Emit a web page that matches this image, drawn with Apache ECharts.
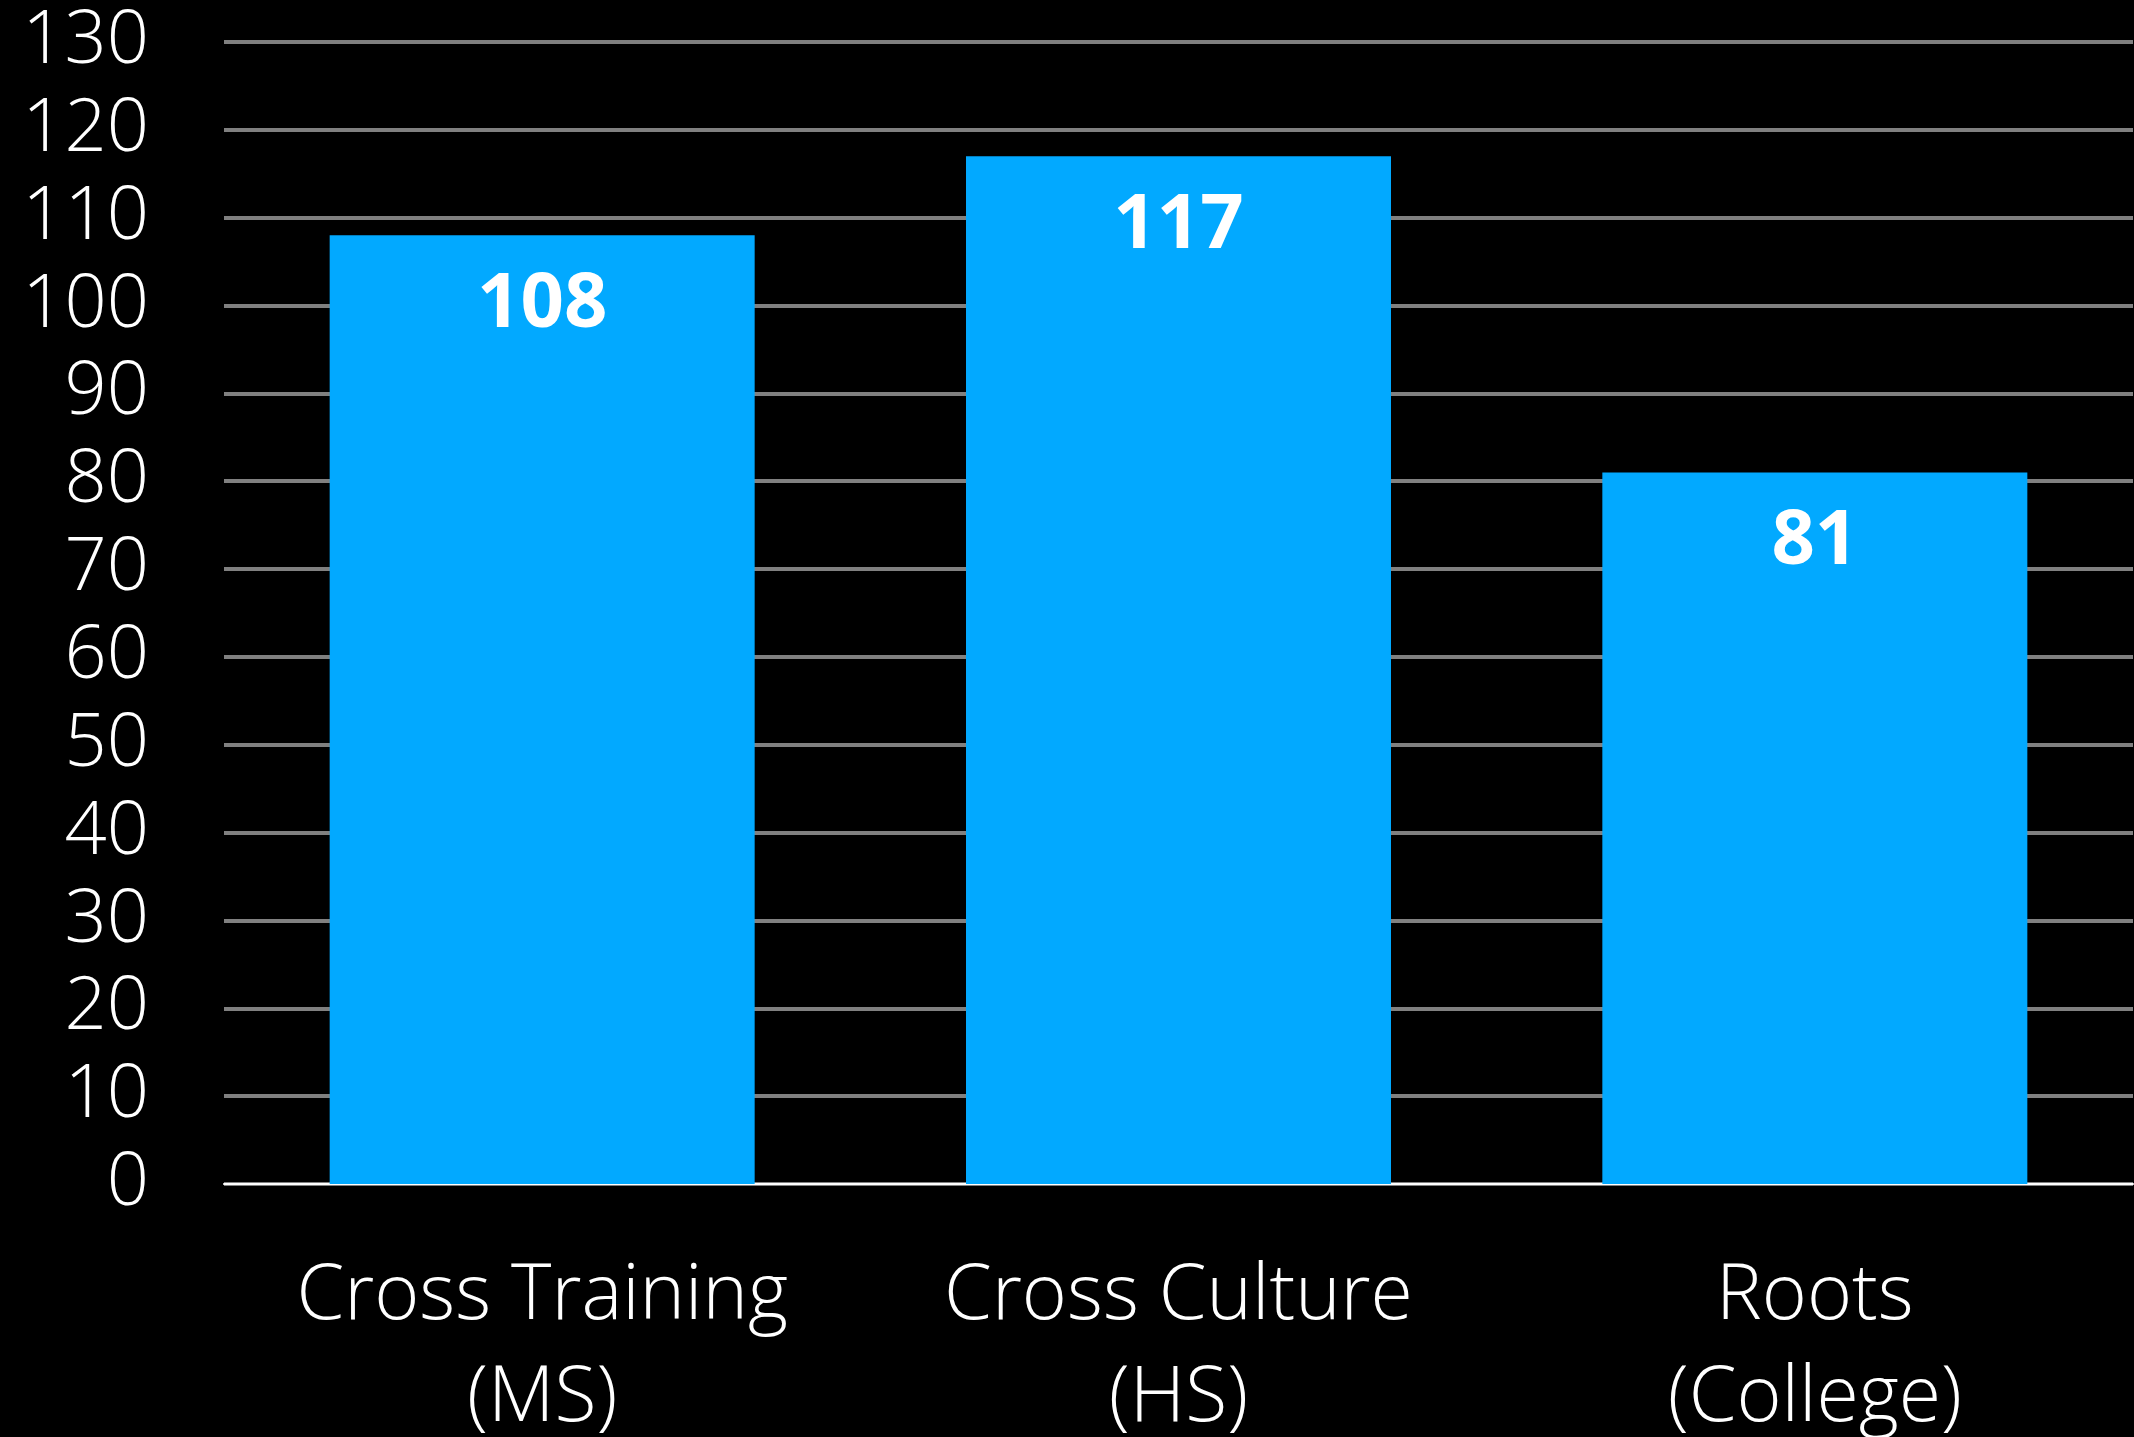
<!DOCTYPE html>
<html>
<head>
<meta charset="utf-8">
<script src="https://cdn.jsdelivr.net/npm/echarts@6/dist/echarts.min.js"></script>
<style>
  html, body { margin: 0; padding: 0; background: #000; }
  #chart { width: 2134px; height: 1437px; }
</style>
</head>
<body>
<div id="chart"></div>
<script>
// 数据
var categories = ['Cross Training\n(MS)', 'Cross Culture\n(HS)', 'Roots\n(College)'];
var values = [108, 117, 81];
var yMin = 0, yMax = 130, yStep = 10;

var myChart = echarts.init(document.getElementById('chart'));

var option = {
    backgroundColor: '#000',
    animation: false,
    textStyle: { fontFamily: 'Open Sans' },
    grid: {
        left: 224, right: 1, top: 42, bottom: 253,
        containLabel: false,
        outerBoundsMode: 'none'
    },
    xAxis: {
        type: 'category',
        data: categories,
        axisLine: { show: true, lineStyle: { color: '#fff', width: 2 } },
        axisTick: { show: false },
        axisLabel: {
            interval: 0,
            hideOverlap: false,
            color: '#fff',
            fontSize: 77,
            fontWeight: 300,
            lineHeight: 102,
            margin: 62
        }
    },
    yAxis: {
        type: 'value',
        min: yMin,
        max: yMax,
        interval: yStep,
        axisLine: { show: false },
        axisTick: { show: false },
        splitLine: { lineStyle: { color: '#808080', width: 4 } },
        axisLabel: {
            color: '#fff',
            fontSize: 74,
            fontWeight: 300,
            margin: 75
        }
    },
    series: [{
        type: 'bar',
        data: values,
        barWidth: 425,
        itemStyle: { color: '#02A9FF' },
        label: {
            show: true,
            position: 'insideTop',
            distance: 32,
            color: '#fff',
            fontSize: 76,
            fontWeight: 'bold'
        }
    }]
};

myChart.setOption(option);
</script>
</body>
</html>
